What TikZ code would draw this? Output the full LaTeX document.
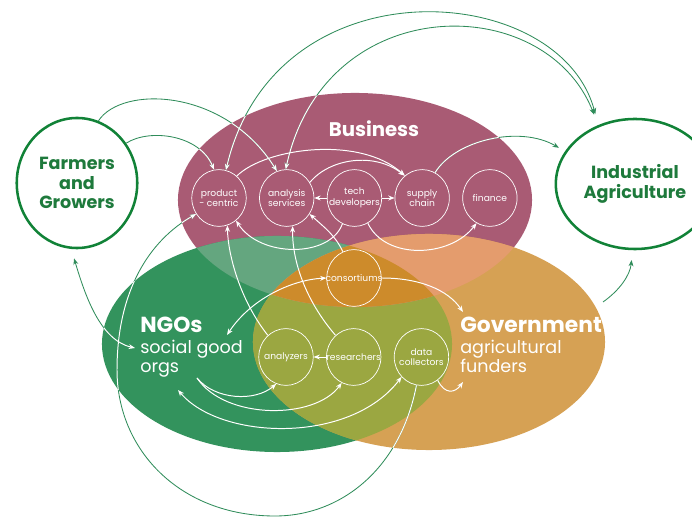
\documentclass[tikz,border=0pt]{standalone}
\usepackage{fontspec}
\setmainfont{Poppins}
\usetikzlibrary{arrows.meta,shapes.geometric,positioning}
\definecolor{bizfill}{RGB}{169,91,116}
\definecolor{ngofill}{RGB}{51,147,93}
\definecolor{govfill}{RGB}{214,161,84}
\definecolor{bizngo}{RGB}{100,166,127}
\definecolor{bizgov}{RGB}{228,156,109}
\definecolor{ngogov}{RGB}{155,167,65}
\definecolor{allthree}{RGB}{205,139,43}
\definecolor{hubgreen}{RGB}{17,130,55}
\definecolor{hubtext}{RGB}{30,122,60}
\definecolor{linkgreen}{RGB}{47,140,90}
\newcommand\bizpath{(355,200) ellipse [x radius=4.425cm, y radius=2.675cm]}
\newcommand\ngopath{(277,344) ellipse [x radius=4.375cm, y radius=2.7cm]}
\newcommand\govpath{(429,342) ellipse [x radius=4.4cm, y radius=2.7cm]}
\newcommand\crosslinks{
  \draw[link,->] (farm.71) .. controls (122,85) and (225,88) .. (anal.110);
  \draw[link,->] (farm.39) .. controls (150,128) and (200,135) .. (prod.100);
  \draw[link,<->,shorten >=8pt] (prod.76) .. controls (275,-40) and (560,-20) .. (indu.122);
  \draw[link,<->,shorten >=8pt] (anal.92) .. controls (325,-10) and (545,-10) .. (indu.122);
  \draw[link,->,shorten >=5pt] (supp.63) .. controls (455,140) and (520,125) .. (indu.155);
  \draw[link,<->,shorten <=7pt] (farm.265) .. controls (85,295) and (100,340) .. (ngoa);
  \draw[link,->] (dcol.260) .. controls (400,470) and (340,516) .. (275,516)
    .. controls (180,516) and (117,450) .. (117,370)
    .. controls (117,290) and (150,240) .. (prod.215);
}
\begin{document}
\begin{tikzpicture}[x=0.025cm, y=-0.025cm,
  node distance=0.315cm,
  unit/.style={ellipse, draw=white, line width=0.5pt, minimum width=1.36cm, minimum height=1.42cm, inner xsep=-10pt, inner ysep=0pt, align=center, text=white, font=\fontsize{6.5}{7.5}\selectfont},
  hub/.style={ellipse, draw=hubgreen, line width=1.8pt, minimum width=3cm, minimum height=3.25cm, align=center, text=hubtext, font=\bfseries\fontsize{12.5}{14}\selectfont},
  tag/.style={anchor=north west, inner sep=0pt, align=left, text=white, font=\fontsize{12.5}{13.5}\selectfont},
  link/.style={draw=linkgreen, line width=0.6pt},
  flow/.style={draw=white, line width=0.7pt},
  >={Stealth[length=4.5pt,width=3.5pt]}
  ]
  \useasboundingbox (0,0) rectangle (692,517);
  \fill[bizfill] \bizpath;
  \fill[ngofill] \ngopath;
  \fill[govfill] \govpath;
  \begin{scope}
    \clip \ngopath;
    \fill[ngogov] \govpath;
  \end{scope}
  \begin{scope}
    \clip \bizpath;
    \fill[bizngo] \ngopath;
    \fill[bizgov] \govpath;
    \clip \ngopath;
    \fill[allthree] \govpath;
  \end{scope}

  \node[hub] (farm) at (77,183) {Farmers\\and\\Growers};
  \node[hub] (indu) at (635,184) {Industrial\\Agriculture};

  \node[text=white, font=\bfseries\fontsize{14}{16}\selectfont] (biztitle) at (374,129) {Business};
  \node[tag] (ngolabel) at (140,317) {{\bfseries\fontsize{15.5}{17}\selectfont NGOs}\\[1pt]social good\\orgs};
  \node[tag] (govlabel) at (460,317) {{\bfseries\fontsize{15.5}{17}\selectfont Government}\\[1pt]agricultural\\funders};

  \node[unit] (prod) at (219,198) {product\\- centric};
  \node[unit, right=of prod] (anal) {analysis\\services};
  \node[unit, right=of anal] (tech) {tech\\developers};
  \node[unit, right=of tech] (supp) {supply\\chain};
  \node[unit, right=of supp] (fina) {finance};
  \node[unit] (cons) at (354,278) {consortiums};
  \node[unit] (anlz) at (286,357) {analyzers};
  \node[unit, right=of anlz] (rsch) {researchers};
  \node[unit, right=of rsch] (dcol) {data\\collectors};

  \coordinate (ngoa) at (135,348);
  \coordinate (ngob) at (227,335);
  \coordinate (ngoc) at (197,378);
  \coordinate (ngod) at (178,390);
  \coordinate (govin) at (463,312);
  \coordinate (govb) at (463,382);
  \coordinate (govedge) at (603,302);

  \crosslinks
  \draw[link,->,shorten >=7pt] (govedge) .. controls (620,290) and (630,275) .. (indu.268);
  \begin{scope}[link/.style={flow}]
    \clip \bizpath \ngopath \govpath;
    \crosslinks
  \end{scope}

  \draw[flow,->] (tech.west) -- (anal.east);
  \draw[flow,->] (tech.east) -- (supp.west);
  \draw[flow,->] (rsch.west) -- (anlz.east);
  \draw[flow,->] (prod.51) .. controls (265,148) and (360,135) .. (supp.128);
  \draw[flow,->] (anal.34) .. controls (330,158) and (375,152) .. (supp.128);
  \draw[flow,->] (anlz.130) .. controls (240,300) and (228,255) .. (prod.287);
  \draw[flow,->] (rsch.130) .. controls (305,300) and (292,260) .. (anal.282);
  \draw[flow,->] (tech.245) .. controls (330,258) and (260,258) .. (prod.307);
  \draw[flow,->] (tech.298) .. controls (385,260) and (450,258) .. (fina.242);
  \draw[flow,->] (cons.113) .. controls (335,235) and (325,228) .. (anal.325);
  \draw[flow,<->] (ngob) .. controls (250,300) and (290,280) .. (cons.west);
  \draw[flow,->] (cons.east) .. controls (420,278) and (448,290) .. (govin);
  \draw[flow,->] (ngoc) .. controls (215,400) and (255,402) .. (anlz.250);
  \draw[flow,->] (ngoc) .. controls (225,420) and (315,420) .. (rsch.245);
  \draw[flow,<->] (ngod) .. controls (220,440) and (350,445) .. (dcol.225);
  \draw[flow,->] (dcol.305) .. controls (445,395) and (455,393) .. (govb);
\end{tikzpicture}
\end{document}
